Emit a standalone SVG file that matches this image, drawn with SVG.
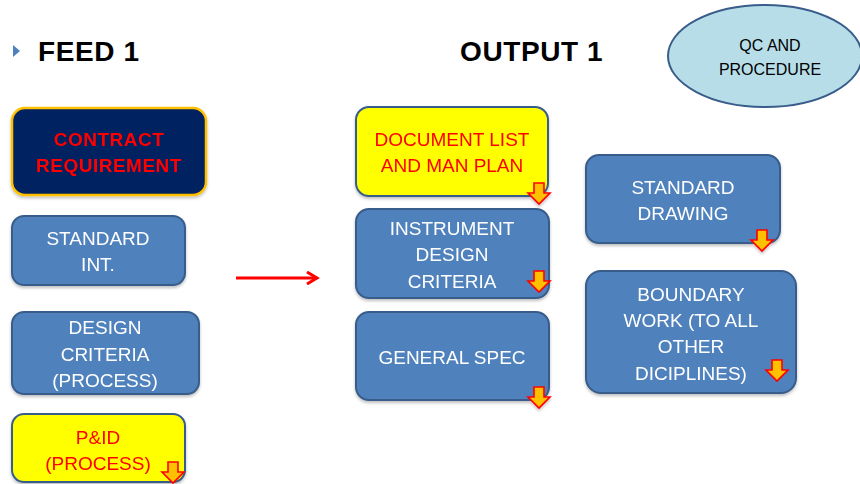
<svg xmlns="http://www.w3.org/2000/svg" width="860" height="484" viewBox="0 0 860 484">
  <defs>
    <style>
      .box { fill: #4F81BD; stroke: #385D8A; stroke-width: 2; }
      .hl { fill: #FFFF00; stroke: #385D8A; stroke-width: 2; }
      .wt { font-family: "Liberation Sans", Arial, sans-serif; font-size: 19px; fill: #FFFFFF; text-anchor: middle; }
      .rt { font-family: "Liberation Sans", Arial, sans-serif; font-size: 19px; fill: #FF0000; text-anchor: middle; }
      .title { font-family: "Liberation Sans", Arial, sans-serif; font-size: 28px; font-weight: bold; fill: #000000; letter-spacing: 0.6px; }
      .dn { fill: #FFC000; stroke: #FF0000; stroke-width: 1.6; stroke-linejoin: miter; }
    </style>
    <!-- small block arrow pointing down, origin at its top-left -->
    <path id="down" class="dn" d="M6,0 H16 V10 H22 L11,21 L0,10 H6 Z"/>
    <marker id="arrowhead" markerWidth="14" markerHeight="14" refX="10" refY="7" orient="auto" markerUnits="userSpaceOnUse">
      <path d="M1,1 L11,7 L1,13" fill="none" stroke="#FF0000" stroke-width="3"/>
    </marker>
    <filter id="sh" x="-10%" y="-10%" width="130%" height="130%">
      <feDropShadow dx="0" dy="2" stdDeviation="1.5" flood-color="#000" flood-opacity="0.25"/>
    </filter>
  </defs>

  <rect width="860" height="484" fill="#FFFFFF"/>

  <!-- headings -->
  <g id="feed-title">
    <path d="M13,45 L20,51 L13,57 Z" fill="#4F81BD"/>
    <text class="title" x="38" y="61">FEED 1</text>
  </g>
  <g id="output-title">
    <text class="title" x="460" y="61" letter-spacing="1.5">OUTPUT 1</text>
  </g>

  <g id="qc">
    <ellipse cx="765" cy="56" rx="97" ry="51" fill="#B7DEE8" stroke="#385D8A" stroke-width="2"/>
    <text x="770" y="51" font-family="Liberation Sans, Arial, sans-serif" font-size="16" fill="#000" text-anchor="middle">QC AND</text>
    <text x="770" y="75" font-family="Liberation Sans, Arial, sans-serif" font-size="16" fill="#000" text-anchor="middle">PROCEDURE</text>
  </g>

  <!-- feed column -->
  <g id="contract" filter="url(#sh)">
    <rect x="12" y="108" width="194" height="87" rx="13" fill="#002060" stroke="#FFC000" stroke-width="2.5"/>
    <text class="rt" font-weight="bold" font-size="20" letter-spacing="0.5" x="109" y="146">CONTRACT</text>
    <text class="rt" font-weight="bold" font-size="20" letter-spacing="0.5" x="109" y="172">REQUIREMENT</text>
  </g>

  <g id="standard-int" filter="url(#sh)">
    <rect class="box" x="12" y="216" width="173" height="69" rx="12"/>
    <text class="wt" x="98" y="245">STANDARD</text>
    <text class="wt" x="98" y="271">INT.</text>
  </g>

  <g id="design-criteria" filter="url(#sh)">
    <rect class="box" x="12" y="312" width="187" height="82" rx="12"/>
    <text class="wt" x="105" y="334">DESIGN</text>
    <text class="wt" x="105" y="361">CRITERIA</text>
    <text class="wt" x="105" y="387">(PROCESS)</text>
  </g>

  <g id="pid" filter="url(#sh)">
    <rect class="hl" x="12" y="414" width="173" height="68" rx="12"/>
    <text class="rt" x="98" y="444">P&amp;ID</text>
    <text class="rt" x="98" y="470">(PROCESS)</text>
    <use href="#down" x="162" y="462"/>
  </g>

  <!-- output column -->
  <g id="doc-list" filter="url(#sh)">
    <rect class="hl" x="356" y="107" width="192" height="89" rx="13"/>
    <text class="rt" x="452" y="146">DOCUMENT LIST</text>
    <text class="rt" x="452" y="172">AND MAN PLAN</text>
    <use href="#down" x="528" y="183"/>
  </g>

  <g id="instrument" filter="url(#sh)">
    <rect class="box" x="356" y="209" width="193" height="89" rx="13"/>
    <text class="wt" x="452" y="235">INSTRUMENT</text>
    <text class="wt" x="452" y="261">DESIGN</text>
    <text class="wt" x="452" y="288">CRITERIA</text>
    <use href="#down" x="528" y="271"/>
  </g>

  <g id="general-spec" filter="url(#sh)">
    <rect class="box" x="356" y="312" width="193" height="88" rx="13"/>
    <text class="wt" x="452" y="364">GENERAL SPEC</text>
    <use href="#down" x="528" y="387"/>
  </g>

  <g id="standard-drawing" filter="url(#sh)">
    <rect class="box" x="586" y="155" width="194" height="88" rx="13"/>
    <text class="wt" x="683" y="194">STANDARD</text>
    <text class="wt" x="683" y="220">DRAWING</text>
    <use href="#down" x="751" y="230"/>
  </g>

  <g id="boundary" filter="url(#sh)">
    <rect class="box" x="586" y="271" width="210" height="122" rx="15"/>
    <text class="wt" x="691" y="301">BOUNDARY</text>
    <text class="wt" x="691" y="327">WORK (TO ALL</text>
    <text class="wt" x="691" y="353">OTHER</text>
    <text class="wt" x="691" y="380">DICIPLINES)</text>
    <use href="#down" x="766" y="360"/>
  </g>

  <!-- connectors -->
  <g id="connectors">
    <line x1="236" y1="278" x2="316" y2="278" stroke="#FF0000" stroke-width="3" marker-end="url(#arrowhead)"/>
  </g>
</svg>
